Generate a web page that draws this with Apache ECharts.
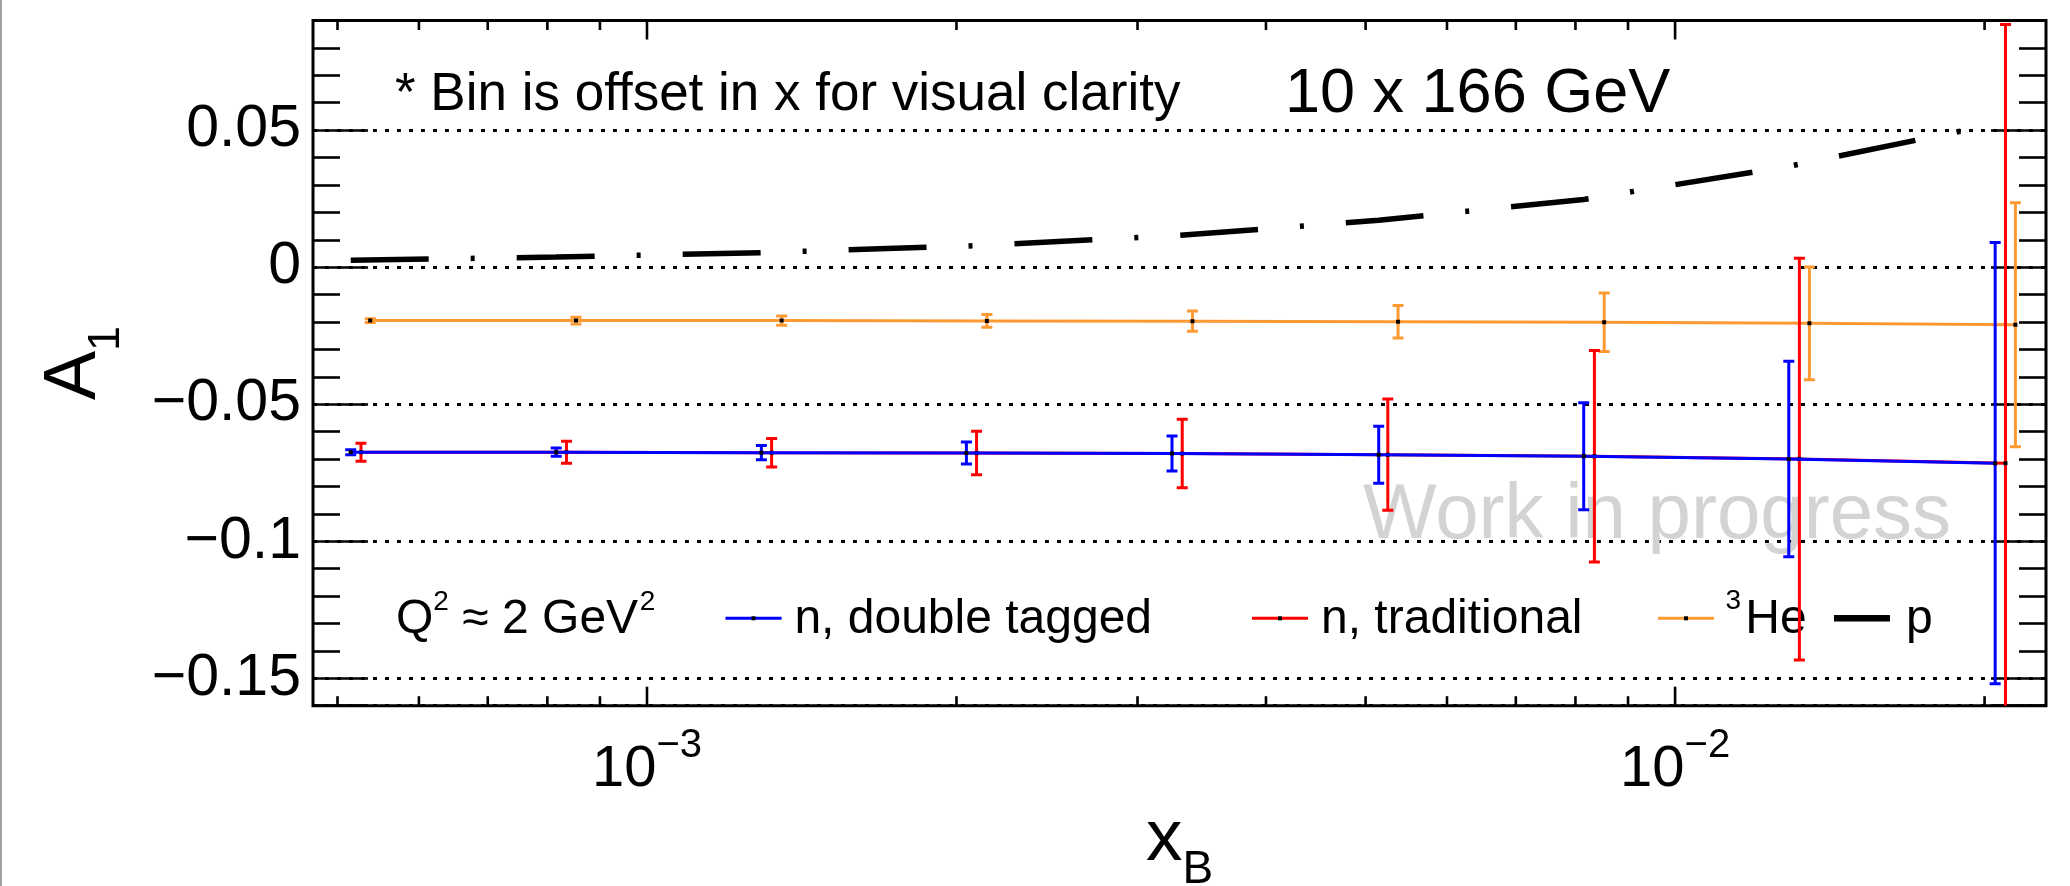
<!DOCTYPE html>
<html><head><meta charset="utf-8">
<script src="https://cdn.jsdelivr.net/npm/echarts@6/dist/echarts.min.js"></script>
<style>html,body{margin:0;padding:0;background:#fff;overflow:hidden}#c{width:2070px;height:886px}</style>
</head><body><div id="c"></div>
<script>
// ---- data ----
const xDoubleTagged = [5.15e-4, 8.16e-4, 1.292e-3, 2.045e-3, 3.241e-3, 5.149e-3, 8.149e-3, 1.290e-2, 2.048e-2];
const xTraditional  = [5.27e-4, 8.35e-4, 1.322e-3, 2.092e-3, 3.316e-3, 5.255e-3, 8.347e-3, 1.321e-2, 2.096e-2];
const xHe3          = [5.38e-4, 8.53e-4, 1.352e-3, 2.141e-3, 3.393e-3, 5.377e-3, 8.532e-3, 1.351e-2, 2.143e-2];
const xProton       = [5.15e-4, 8.16e-4, 1.292e-3, 2.045e-3, 3.241e-3, 5.149e-3, 8.149e-3, 1.290e-2, 2.048e-2];

const a1Neutron     = [-0.0675, -0.0675, -0.0677, -0.0678, -0.0680, -0.0684, -0.0690, -0.0700, -0.0715];
const errDoubleTagged = [0.0009, 0.0015, 0.0026, 0.0040, 0.0064, 0.0104, 0.0195, 0.0357, 0.0805];
const errTraditional  = [0.0033, 0.0040, 0.0052, 0.0079, 0.0125, 0.0203, 0.0386, 0.0733, 0.160];
const a1He3         = [-0.0195, -0.0195, -0.0195, -0.0196, -0.0197, -0.0199, -0.0201, -0.0205, -0.0210];
const errHe3        = [0.0007, 0.0012, 0.0017, 0.0023, 0.0037, 0.0059, 0.0107, 0.0206, 0.0445];
const a1Proton      = [0.0025, 0.0037, 0.0053, 0.0077, 0.0114, 0.0171, 0.0247, 0.0368, 0.0522];

const xTickMinor = [5e-4, 6e-4, 7e-4, 8e-4, 9e-4, 2e-3, 3e-3, 4e-3, 5e-3, 6e-3, 7e-3, 8e-3, 9e-3, 2e-2];
const xTickMajor = [1e-3, 1e-2];
const X_MIN = 4.733e-4, X_MAX = 0.02295;
const Y_MIN = -0.16, Y_MAX = 0.09;

const FONT = '"Liberation Sans", Arial, Helvetica, sans-serif';
const BLUE = '#0000ff', RED = '#ff0000', ORANGE = '#ff9933';

function pairs(xs, ys) { return xs.map((x, i) => [x, ys[i]]); }

function lineSeries(name, xs, ys, color, z, extra) {
  return Object.assign({
    type: 'line', name, data: pairs(xs, ys), symbol: 'none', showSymbol: false,
    clip: true, z, silent: true,
    lineStyle: { color, width: 3 }
  }, extra || {});
}

function errSeries(name, xs, ys, errs, color, z) {
  return {
    type: 'custom', name, clip: true, z, silent: true,
    data: xs.map((x, i) => [x, ys[i], errs[i]]),
    encode: { x: 0, y: 1 },
    renderItem(params, api) {
      const x = api.value(0), y = api.value(1), e = api.value(2);
      const c = api.coord([x, y]);
      const hi = api.coord([x, y + e]);
      const lo = api.coord([x, y - e]);
      const cw = 5.5;
      const ls = { stroke: color, lineWidth: 3 };
      return { type: 'group', children: [
        { type: 'line', shape: { x1: c[0], y1: hi[1], x2: c[0], y2: lo[1] }, style: ls },
        { type: 'line', shape: { x1: c[0] - cw, y1: hi[1], x2: c[0] + cw, y2: hi[1] }, style: ls },
        { type: 'line', shape: { x1: c[0] - cw, y1: lo[1], x2: c[0] + cw, y2: lo[1] }, style: ls },
        { type: 'rect', shape: { x: c[0] - 2, y: c[1] - 2, width: 4, height: 4 }, style: { fill: '#000' } }
      ]};
    }
  };
}

const tickSeries = {
  type: 'custom', name: 'xticks', silent: true, clip: false, z: 5,
  data: xTickMinor.map(v => [v, Y_MIN, 0]).concat(xTickMajor.map(v => [v, Y_MIN, 1])),
  encode: { x: 0, y: 1 },
  renderItem(params, api) {
    const v = api.value(0), major = api.value(2) === 1;
    const b = api.coord([v, Y_MIN]), t = api.coord([v, Y_MAX]);
    const len = major ? 19 : 9.5;
    const st = { stroke: '#000', lineWidth: 2.6 };
    return { type: 'group', children: [
      { type: 'line', shape: { x1: b[0], y1: b[1], x2: b[0], y2: b[1] - len }, style: st },
      { type: 'line', shape: { x1: t[0], y1: t[1], x2: t[0], y2: t[1] + len }, style: st }
    ]};
  }
};

function txt(text, x, y, size, fill, extra) {
  return Object.assign({
    type: 'text', x, y, z: 1, silent: true,
    style: { text, font: size + 'px ' + FONT, fontSize: size, fontFamily: FONT, fill: fill || '#000',
             textAlign: 'left', textVerticalAlign: 'middle', align: 'left', verticalAlign: 'middle' }
  }, extra || {});
}
function hline(x1, x2, y, color, w) {
  return { type: 'line', z: 1, silent: true, shape: { x1, y1: y, x2, y2: y }, style: { stroke: color, lineWidth: w } };
}
function dot(x, y) {
  return { type: 'rect', z: 2, silent: true, shape: { x: x - 2, y: y - 2, width: 4, height: 4 }, style: { fill: '#000' } };
}

const yAxisCommon = {
  type: 'value', min: Y_MIN, max: Y_MAX, minInterval: 0.05, maxInterval: 0.05, splitNumber: 5,
  axisLine: { show: false, onZero: false },
  axisTick: { show: true, inside: true, length: 55, lineStyle: { color: '#000', width: 2.6 } },
  minorTick: { show: true, splitNumber: 5, length: 27, lineStyle: { color: '#000', width: 2.6 } }
};

const option = {
  animation: false,
  backgroundColor: '#fff',
  grid: { left: 313, right: 24, top: 20.5, bottom: 180.3, show: true, borderColor: '#000', borderWidth: 3,
          backgroundColor: 'transparent', containLabel: false, outerBoundsMode: 'none' },
  xAxis: {
    type: 'log', logBase: 10, min: X_MIN, max: X_MAX,
    axisLine: { show: false, onZero: false },
    axisTick: { show: false }, minorTick: { show: false }, splitLine: { show: false },
    axisLabel: {
      show: true, margin: 20, showMinLabel: false, showMaxLabel: false,
      formatter: function (v) {
        const e = Math.log10(v), r = Math.round(e);
        if (Math.abs(e - r) > 1e-6) return '';
        return '{b|10}{e|' + (r < 0 ? '\u2212' : '') + Math.abs(r) + '}';
      },
      rich: {
        b: { fontSize: 58, lineHeight: 88, fontFamily: FONT, color: '#000', verticalAlign: 'middle' },
        e: { fontSize: 40, fontFamily: FONT, color: '#000', verticalAlign: 'top' }
      }
    },
    name: '{x|x}{s|B}', nameLocation: 'middle', nameGap: 72.5,
    nameTextStyle: { rich: {
      x: { fontSize: 73, lineHeight: 107, fontFamily: FONT, color: '#000', verticalAlign: 'middle' },
      s: { fontSize: 46, fontFamily: FONT, color: '#000', verticalAlign: 'bottom' }
    } }
  },
  yAxis: [
    Object.assign({}, yAxisCommon, {
      position: 'left',
      splitLine: { show: true, lineStyle: { color: '#000', width: 3, type: [4, 8] } },
      axisLabel: {
        show: true, margin: 12, fontSize: 59, fontFamily: FONT, color: '#000',
        showMinLabel: false, showMaxLabel: false,
        formatter: function (v) {
          if (Math.abs(v) < 1e-9) return '0';
          return String(+v.toFixed(4)).replace('-', '\u2212');
        }
      },
      name: '{a|A}{s|1}', nameLocation: 'middle', nameRotate: 90, nameGap: 184,
      nameTextStyle: { rich: {
        a: { fontSize: 74, lineHeight: 109, fontFamily: FONT, color: '#000', verticalAlign: 'middle' },
        s: { fontSize: 45, fontFamily: FONT, color: '#000', verticalAlign: 'bottom' }
      } }
    }),
    Object.assign({}, yAxisCommon, {
      position: 'right', splitLine: { show: false }, axisLabel: { show: false }
    })
  ],
  series: [
    lineSeries('³He', xHe3, a1He3, ORANGE, 3),
    errSeries('³He errors', xHe3, a1He3, errHe3, ORANGE, 4),
    lineSeries('n, traditional', xTraditional, a1Neutron, RED, 5),
    errSeries('n, traditional errors', xTraditional, a1Neutron, errTraditional, RED, 6),
    lineSeries('n, double tagged', xDoubleTagged, a1Neutron, BLUE, 7),
    errSeries('n, double tagged errors', xDoubleTagged, a1Neutron, errDoubleTagged, BLUE, 8),
    lineSeries('p', xProton, a1Proton, '#000', 9,
      { lineStyle: { color: '#000', width: 5.5, type: [78, 42, 4, 42], cap: 'butt' } }),
    tickSeries
  ],
  graphic: { elements: [
    { type: 'rect', z: 0, silent: true, shape: { x: 0, y: 0, width: 2, height: 886 }, style: { fill: '#a0a0a0' } },
    txt('* Bin is offset in x for visual clarity', 395, 95, 53),
    txt('10 x 166 GeV', 1285, 95, 63),
    txt('Work in progress', 1363, 516.3, 78, '#d3d3d3'),
    // legend
    txt('Q', 396, 620.1, 48),
    txt('2', 433.3, 602.3, 28),
    txt(' \u2248 2 GeV', 449, 620.1, 48),
    txt('2', 639.7, 602.3, 28),
    hline(725.5, 781.6, 618.3, BLUE, 3), dot(753.5, 618.3),
    txt('n, double tagged', 794.4, 620.1, 48),
    hline(1252, 1308, 618.3, RED, 3), dot(1280, 618.3),
    txt('n, traditional', 1321, 620.1, 48),
    hline(1658, 1714, 618.3, ORANGE, 3), dot(1686, 618.3),
    txt('3', 1725.6, 601, 28),
    txt('He', 1745.3, 620.1, 48),
    hline(1834, 1890, 618.3, '#000', 6.5),
    txt('p', 1906, 620.1, 48)
  ] }
};

const chart = echarts.init(document.getElementById('c'), null, { renderer: 'canvas', width: 2070, height: 886 });
chart.setOption(option);
</script>
</body></html>
